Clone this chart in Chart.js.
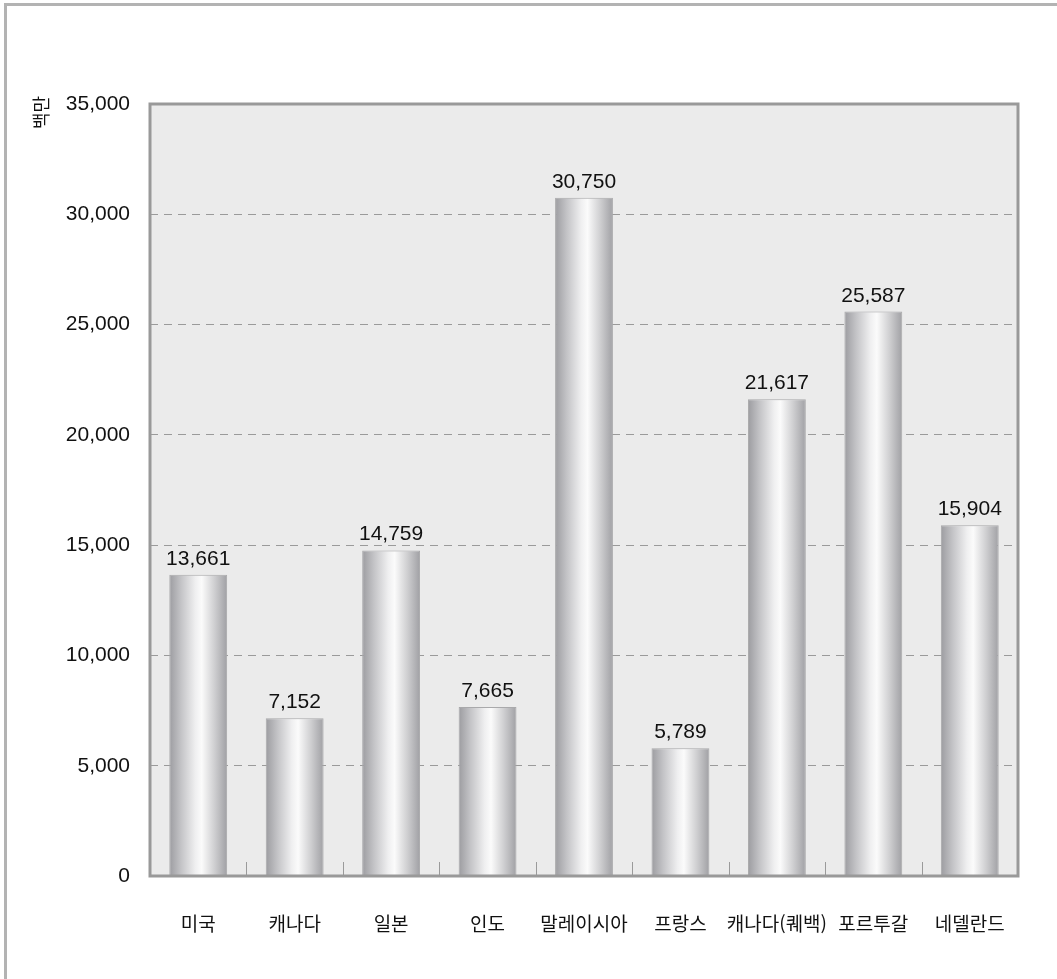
<!DOCTYPE html>
<html lang="ko">
<head>
<meta charset="utf-8">
<script src="https://cdn.jsdelivr.net/npm/chart.js@4"></script>
<style>
  html, body { margin: 0; padding: 0; background: #fff; }
  #wrap { position: relative; width: 1057px; height: 979px; }
  #frame {
    position: absolute; left: 4px; top: 3px; right: 0; bottom: 0;
    border-top: 3px solid #b3b3b3; border-left: 3px solid #b3b3b3;
    pointer-events: none;
  }
</style>
</head>
<body>
<div id="wrap">
  <canvas id="costChart" width="1057" height="979"></canvas>
  <div id="frame"></div>
</div>
<script>
const categories = ["미국", "캐나다", "일본", "인도", "말레이시아", "프랑스", "캐나다(퀘백)", "포르투갈", "네델란드"];
const values = [13661, 7152, 14759, 7665, 30750, 5789, 21617, 25587, 15904];
const yTicks = [0, 5000, 10000, 15000, 20000, 25000, 30000, 35000];
const unitLabel = "백만";

const numFont = '"Liberation Sans", Arial, sans-serif';
const krFont = '"Noto Sans CJK KR", "Noto Sans", sans-serif';

// cylinder-like shading across each bar
function barGradient(c) {
  const chart = c.chart;
  const x = chart.scales.x;
  if (!chart.chartArea || !x) return "#cfcfd1";
  const cx = x.getPixelForValue(c.dataIndex);
  const w = (x.width / categories.length) * 0.6;
  const g = chart.ctx.createLinearGradient(cx - w / 2, 0, cx + w / 2, 0);
  g.addColorStop(0, "#9c9ca0");
  g.addColorStop(0.2, "#c3c3c6");
  g.addColorStop(0.45, "#efeff0");
  g.addColorStop(0.56, "#fbfbfb");
  g.addColorStop(0.78, "#cfcfd1");
  g.addColorStop(1, "#a0a0a4");
  return g;
}

const plotFrame = {
  id: "plotFrame",
  beforeDraw(chart) {
    const { ctx, chartArea: a } = chart;
    ctx.save();
    ctx.fillStyle = "#ebebeb";
    ctx.fillRect(a.left, a.top, a.right - a.left, a.bottom - a.top);
    ctx.restore();
  },
  afterDatasetsDraw(chart) {
    const { ctx, chartArea: a, scales } = chart;
    ctx.save();
    // short ticks between categories, rising from the base line
    ctx.strokeStyle = "#9a9a9a";
    ctx.lineWidth = 1;
    for (let i = 0; i < categories.length - 1; i++) {
      const px = Math.round((scales.x.getPixelForValue(i) + scales.x.getPixelForValue(i + 1)) / 2) + 0.5;
      ctx.beginPath();
      ctx.moveTo(px, a.bottom);
      ctx.lineTo(px, a.bottom - 14);
      ctx.stroke();
    }
    ctx.strokeStyle = "#999999";
    ctx.lineWidth = 3;
    ctx.strokeRect(a.left, a.top, a.right - a.left, a.bottom - a.top);

    // value labels above bars
    ctx.fillStyle = "#111";
    ctx.font = "21px " + numFont;
    ctx.textAlign = "center";
    ctx.textBaseline = "alphabetic";
    chart.getDatasetMeta(0).data.forEach((bar, i) => {
      ctx.fillText(values[i].toLocaleString("en-US"), bar.x, bar.y - 10);
    });

    // unit label beside the y axis
    ctx.translate(41, 96);
    ctx.rotate(-Math.PI / 2);
    ctx.font = "18px " + krFont;
    ctx.textAlign = "right";
    ctx.textBaseline = "middle";
    ctx.fillText(unitLabel, 0, 0);
    ctx.restore();
  }
};

new Chart(document.getElementById("costChart"), {
  type: "bar",
  data: {
    labels: categories,
    datasets: [{
      data: values,
      backgroundColor: barGradient,
      borderColor: "#a9a9ab",
      borderWidth: 1,
      categoryPercentage: 1,
      barPercentage: 0.6
    }]
  },
  plugins: [plotFrame],
  options: {
    responsive: false,
    animation: false,
    layout: { padding: { left: 0, top: 104, right: 39, bottom: 0 } },
    plugins: {
      legend: { display: false },
      tooltip: { enabled: false }
    },
    scales: {
      x: {
        grid: { display: false },
        border: { display: false },
        ticks: {
          color: "#111",
          font: { family: krFont, size: 19 },
          padding: 28,
          maxRotation: 0,
          autoSkip: false
        },
        afterFit(scale) { scale.height = 103; }
      },
      y: {
        min: 0,
        max: 35000,
        afterBuildTicks(scale) { scale.ticks = yTicks.map(v => ({ value: v })); },
        grid: { color: "#9a9a9a", drawTicks: false },
        border: { display: false, dash: [8, 6] },
        ticks: {
          color: "#111",
          font: { family: numFont, size: 21 },
          padding: 20,
          callback: v => v.toLocaleString("en-US")
        },
        afterFit(scale) { scale.width = 150; }
      }
    }
  }
});
</script>
</body>
</html>
